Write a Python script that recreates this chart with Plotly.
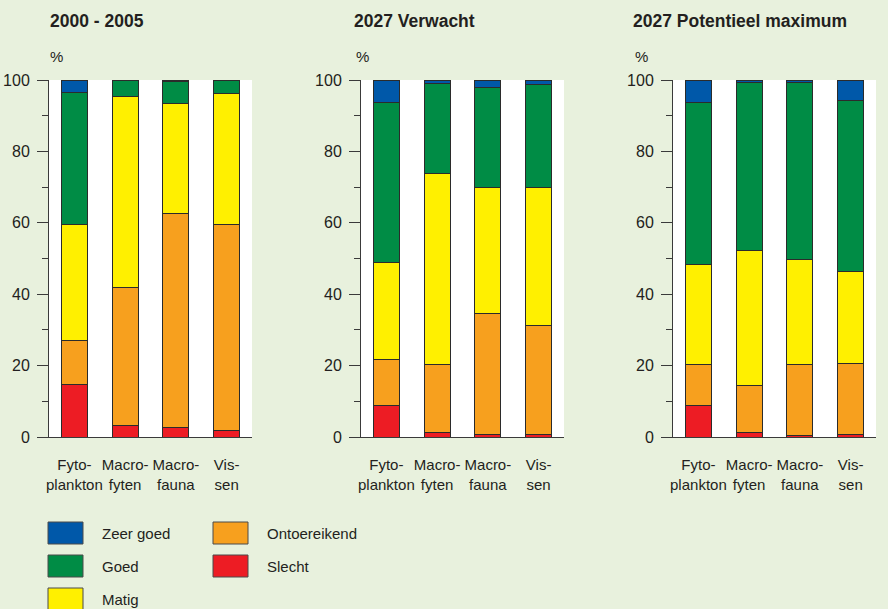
import plotly.graph_objects as go

# ---- data ----
categories = ["Fyto-<br>plankton", "Macro-<br>fyten", "Macro-<br>fauna", "Vis-<br>sen"]
panel_titles = ["2000 - 2005", "2027 Verwacht", "2027 Potentieel maximum"]
series_names = ["Slecht", "Ontoereikend", "Matig", "Goed", "Zeer goed"]
series_colors = ["#ed1c24", "#f7a01e", "#fff000", "#008c45", "#0058a9"]

# values per panel, per series (bottom -> top), per category
p1_slecht       = [14.8, 3.3, 2.8, 1.9]
p1_ontoereikend = [12.3, 38.6, 59.7, 57.7]
p1_matig        = [32.5, 53.5, 30.9, 36.7]
p1_goed         = [36.8, 4.6, 6.1, 3.7]
p1_zeergoed     = [3.6, 0.0, 0.5, 0.0]

p2_slecht       = [8.7, 1.2, 0.7, 0.7]
p2_ontoereikend = [13.1, 19.0, 33.8, 30.6]
p2_matig        = [27.2, 53.7, 35.4, 38.6]
p2_goed         = [44.8, 25.2, 28.1, 28.9]
p2_zeergoed     = [6.2, 0.9, 2.0, 1.2]

p3_slecht       = [8.7, 1.2, 0.4, 0.7]
p3_ontoereikend = [11.5, 13.3, 19.8, 19.9]
p3_matig        = [28.0, 37.7, 29.6, 25.8]
p3_goed         = [45.6, 47.0, 49.4, 47.8]
p3_zeergoed     = [6.2, 0.8, 0.8, 5.8]

y_ticks = [0, 20, 40, 60, 80, 100]

panels = [
    [p1_slecht, p1_ontoereikend, p1_matig, p1_goed, p1_zeergoed],
    [p2_slecht, p2_ontoereikend, p2_matig, p2_goed, p2_zeergoed],
    [p3_slecht, p3_ontoereikend, p3_matig, p3_goed, p3_zeergoed],
]

W, H = 888, 609
MT, MB = 80, 172
PH = H - MT - MB
BG = "#e8f1dd"
TXT = "#231f20"
AX = "#3a3a3a"
FONT = "Liberation Sans, Arial, sans-serif"

def px_x(x):
    return x / W

def px_y(y):
    return (H - MB - y) / PH

domains = [(49, 252), (361, 564), (673, 876)]
title_x = [48, 352, 631]

fig = go.Figure()
for pi, panel in enumerate(panels):
    xa = "x" if pi == 0 else f"x{pi+1}"
    ya = "y" if pi == 0 else f"y{pi+1}"
    for si, vals in enumerate(panel):
        fig.add_trace(go.Bar(
            x=categories, y=vals, name=series_names[si],
            marker=dict(color=series_colors[si], line=dict(color="#2b2b2b", width=1)),
            xaxis=xa, yaxis=ya, showlegend=False, hoverinfo="skip",
        ))

layout = dict(
    width=W, height=H,
    margin=dict(l=0, r=0, t=MT, b=MB, pad=0),
    paper_bgcolor=BG, plot_bgcolor="white",
    barmode="stack", bargap=0.49,
    font=dict(family=FONT, size=15, color=TXT),
    showlegend=False,
)
for pi in range(3):
    sx = "" if pi == 0 else str(pi + 1)
    layout["xaxis" + sx] = dict(
        domain=[px_x(domains[pi][0]), px_x(domains[pi][1])],
        anchor="y" + sx, range=[-0.5, 3.5], showgrid=False,
        showline=True, linecolor=AX, linewidth=1, ticks="",
        tickangle=0, automargin=False,
        tickfont=dict(size=15, color=TXT), ticklabelstandoff=14,
        fixedrange=True,
    )
    layout["yaxis" + sx] = dict(
        anchor="x" + sx, range=[0, 100], showgrid=False, zeroline=False,
        showline=True, linecolor=AX, linewidth=1, automargin=False,
        tickvals=y_ticks, ticks="outside", ticklen=11, tickcolor=AX, tickwidth=1,
        minor=dict(ticks="outside", ticklen=6, dtick=10, tickcolor=AX, tickwidth=1, showgrid=False),
        tickfont=dict(size=16, color=TXT), ticklabelstandoff=4,
    )

annotations = []
for pi in range(3):
    annotations.append(dict(
        text="<b>" + panel_titles[pi] + "</b>", xref="paper", yref="paper",
        x=px_x(title_x[pi]), y=px_y(21.5), xanchor="left", yanchor="middle",
        showarrow=False, font=dict(size=17.5, color=TXT, family=FONT),
    ))
    annotations.append(dict(
        text="%", xref="paper", yref="paper",
        x=px_x(title_x[pi] + (0 if pi == 0 else 2)), y=px_y(56),
        xanchor="left", yanchor="middle", showarrow=False,
        font=dict(size=15, color=TXT, family=FONT),
    ))

# legend (drawn manually)
legend_order = [4, 3, 2, 1, 0]
legend_pos = [(48, 533), (48, 566), (48, 599), (213, 533), (213, 566)]
shapes = []
for k, si in enumerate(legend_order):
    lx, ly = legend_pos[k]
    shapes.append(dict(
        type="rect", xref="paper", yref="paper",
        x0=px_x(lx), x1=px_x(lx + 35), y0=px_y(ly + 11), y1=px_y(ly - 11),
        fillcolor=series_colors[si], line=dict(color="#4a4a4a", width=1),
    ))
    annotations.append(dict(
        text=series_names[si], xref="paper", yref="paper",
        x=px_x(lx + 52), y=px_y(ly), xanchor="left", yanchor="middle",
        showarrow=False, font=dict(size=15, color=TXT, family=FONT),
    ))

layout["annotations"] = annotations
layout["shapes"] = shapes
fig.update_layout(**layout)
fig.write_html(
    "out.html",
    config={"displayModeBar": False},
    post_script="document.body.style.margin='0px';document.body.style.overflow='hidden';",
)
